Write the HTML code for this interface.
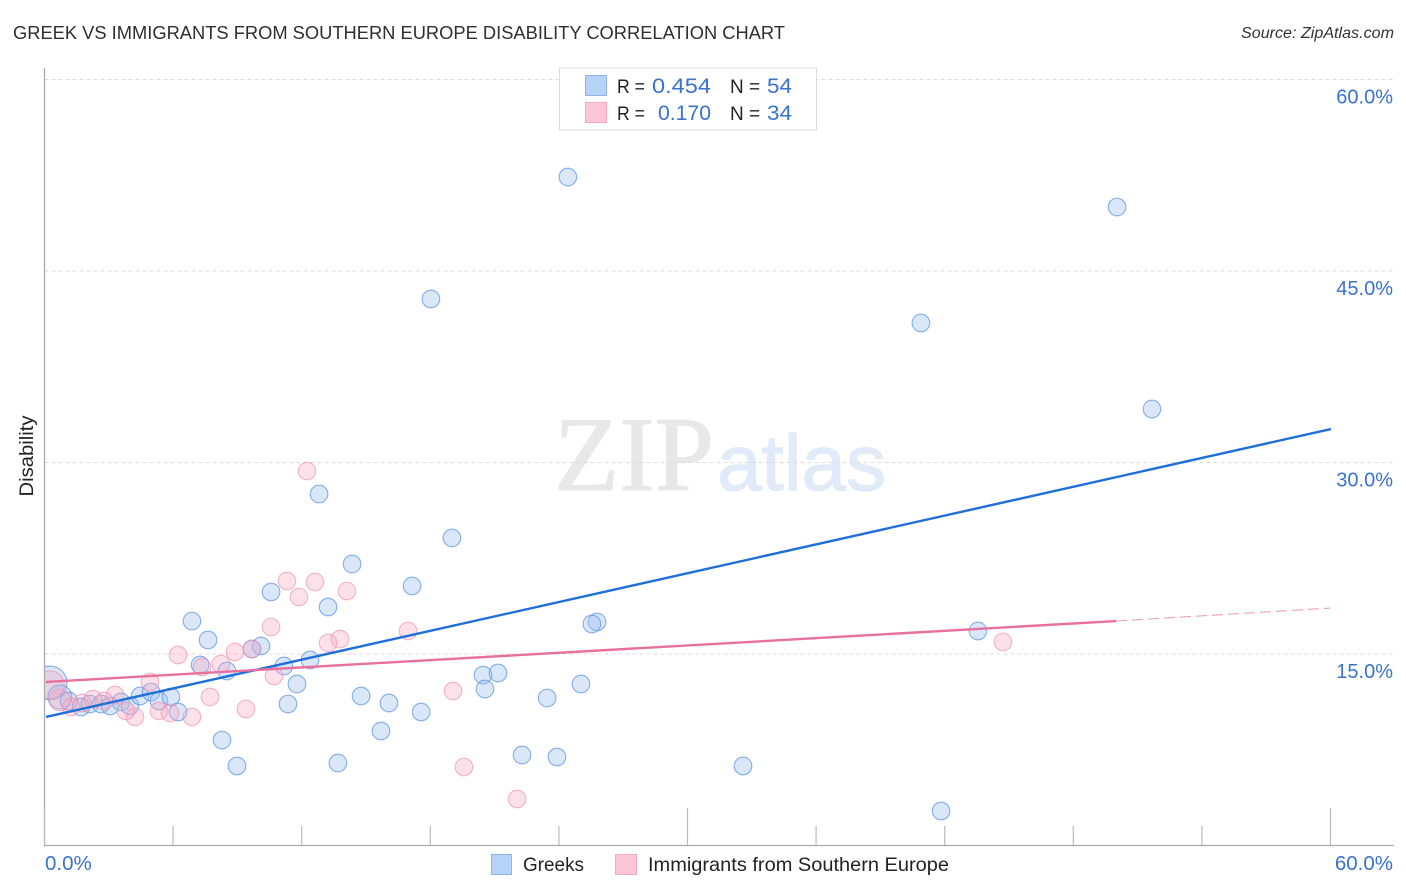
<!DOCTYPE html>
<html lang="en">
<head>
<meta charset="utf-8">
<title>Greek vs Immigrants from Southern Europe Disability Correlation Chart</title>
<style>
html,body{margin:0;padding:0;background:#fff;}
svg{display:block;}
text{font-family:"Liberation Sans",sans-serif;}
</style>
</head>
<body>
<svg id="chart" xmlns="http://www.w3.org/2000/svg" width="1406" height="892" viewBox="0 0 1406 892">
  <defs>
    <clipPath id="plot-clip"><rect x="45" y="60" width="1349" height="786"/></clipPath>
  </defs>
  <rect x="0" y="0" width="1406" height="892" fill="#ffffff"/>
  <text x="13" y="39" font-size="18.5" fill="#2f2f33" textLength="772" lengthAdjust="spacingAndGlyphs">GREEK VS IMMIGRANTS FROM SOUTHERN EUROPE DISABILITY CORRELATION CHART</text>
  <text x="1241" y="38" font-size="15.5" font-style="italic" fill="#333" textLength="153" lengthAdjust="spacingAndGlyphs">Source: ZipAtlas.com</text>
  <g>
    <text x="554" y="490" font-size="106" fill="#e8e8e8" stroke="#e8e8e8" stroke-width="1.2" style="font-family:'Liberation Serif',serif" textLength="160" lengthAdjust="spacingAndGlyphs">ZIP</text>
    <text x="717" y="490" font-size="79" fill="#e0eaf8" stroke="#e0eaf8" stroke-width="1.2" textLength="169" lengthAdjust="spacingAndGlyphs">atlas</text>
  </g>
  <g id="grid"></g>
  <g id="axes"></g>
  <g id="marks-blue" clip-path="url(#plot-clip)"></g>
  <g id="marks-pink" clip-path="url(#plot-clip)"></g>
  <g id="trends"></g>
  <text transform="translate(33,456) rotate(-90)" font-size="19" fill="#222" text-anchor="middle" textLength="81" lengthAdjust="spacingAndGlyphs">Disability</text>
  <g>
    <rect x="559.5" y="68" width="257" height="62" fill="#fff" fill-opacity="0.9" stroke="#dcdcdc" stroke-width="1"/>
    <rect x="585.5" y="75.5" width="21" height="20" fill="#b6d2f6" stroke="#8db4e6"/>
    <rect x="585.5" y="102.5" width="21" height="20" fill="#fcc6d9" stroke="#f4a9c2"/>
    <text x="617" y="93" font-size="19" fill="#222" textLength="28" lengthAdjust="spacingAndGlyphs">R =</text>
    <text x="652" y="93" font-size="21.5" fill="#3a72cc" textLength="59" lengthAdjust="spacingAndGlyphs">0.454</text>
    <text x="730" y="93" font-size="19" fill="#222">N =</text>
    <text x="767" y="93" font-size="21.5" fill="#3a72cc" textLength="25" lengthAdjust="spacingAndGlyphs">54</text>
    <text x="617" y="120" font-size="19" fill="#222" textLength="28" lengthAdjust="spacingAndGlyphs">R =</text>
    <text x="658" y="120" font-size="21.5" fill="#3a72cc" textLength="53" lengthAdjust="spacingAndGlyphs">0.170</text>
    <text x="730" y="120" font-size="19" fill="#222">N =</text>
    <text x="767" y="120" font-size="21.5" fill="#3a72cc" textLength="25" lengthAdjust="spacingAndGlyphs">34</text>
  </g>
  <g>
    <rect x="491.5" y="854.5" width="20" height="20" fill="#b6d2f6" stroke="#8db4e6"/>
    <text x="523" y="871" font-size="19.5" fill="#222" textLength="61" lengthAdjust="spacingAndGlyphs">Greeks</text>
    <rect x="615.5" y="854.5" width="21" height="20" fill="#fcc6d9" stroke="#f4a9c2"/>
    <text x="648" y="871" font-size="19.5" fill="#222" textLength="301" lengthAdjust="spacingAndGlyphs">Immigrants from Southern Europe</text>
  </g>
</svg>
<script>
const yTicks = [15, 30, 45, 60];
const yTickLabels = ["15.0%", "30.0%", "45.0%", "60.0%"];
const xTicks = [0, 6, 12, 18, 24, 30, 36, 42, 48, 54, 60];
const xMajorTicks = [0, 30, 60];
const xEdgeTicks = [0, 60];
const xEdgeLabels = ["0.0%", "60.0%"];

const greeksX = [24.42,50.04,18.03,40.89,51.67,12.81,19.01,14.35,17.15,10.57,13.23,6.88,25.78,25.54,43.55,7.63,10.10,9.68,12.39,11.17,7.26,8.51,20.46,21.16,20.55,11.78,25.03,14.77,23.45,16.07,11.36,17.57,15.70,8.28,22.28,23.91,8.98,13.69,32.59,41.83,0.26,0.72,1.14,1.70,2.12,2.64,3.06,3.57,3.99,4.46,4.97,5.34,5.90,6.23];
const greeksY = [52.36,50.01,42.81,40.93,34.19,27.53,24.09,22.05,20.33,19.86,18.68,17.58,17.51,17.35,16.80,16.10,15.63,15.39,14.53,14.06,14.14,13.67,13.35,13.51,12.26,12.65,12.65,11.71,11.55,11.16,11.08,10.46,8.97,8.26,7.09,6.93,6.23,6.46,6.23,2.70,12.73,11.63,11.32,10.85,11.08,11.08,10.93,11.24,10.93,11.71,12.02,11.32,11.63,10.46];
const greeksWeight = [1,1,1,1,1,1,1,1,1,1,1,1,1,1,1,1,1,1,1,1,1,1,1,1,1,1,1,1,1,1,1,1,1,1,1,1,1,1,1,1,3.7,1.85,1,1,1,1,1,1,1,1,1,1,1,1];

const immigrantsX = [12.25,11.31,12.62,14.11,11.87,10.57,16.96,13.23,13.79,44.72,9.68,8.89,6.23,8.23,7.35,10.71,4.92,19.06,7.72,9.40,19.57,22.05,6.88,5.34,5.86,4.22,3.80,3.29,2.78,2.26,1.75,1.24,0.72,0.26];
const immigrantsY = [29.33,20.72,20.64,19.93,19.46,17.11,16.80,15.86,16.17,15.94,15.39,15.16,14.92,14.22,13.98,13.28,12.81,12.10,11.63,10.69,6.15,3.64,10.07,10.54,10.38,10.07,10.54,11.79,11.32,11.47,11.16,10.85,11.40,12.57];
const immigrantsWeight = [1,1,1,1,1,1,1,1,1,1,1,1,1,1,1,1,1,1,1,1,1,1,1,1,1,1,1,1,1,1,1,1,1.5,2.6];

const greeksTrendX = [0.07, 60.02];
const greeksTrendY = [10.07, 32.62];
const immigrantsTrendX = [0.07, 50];
const immigrantsTrendY = [12.81, 17.58];
const immigrantsDashX = [50, 60];
const immigrantsDashY = [17.58, 18.6];

const NS = "http://www.w3.org/2000/svg";
function xScale(v){ return 44.5 + v * (1286 / 60); }
function yScale(v){ return 845.5 - v * (766 / 60); }
function radius(w){ return 8.8 * Math.sqrt(w); }
function add(parent, tag, attrs, txt){
  const el = document.createElementNS(NS, tag);
  for (const k in attrs) el.setAttribute(k, attrs[k]);
  if (txt !== undefined) el.textContent = txt;
  parent.appendChild(el);
  return el;
}

const grid = document.getElementById("grid");
yTicks.forEach(function(t, i){
  const line = add(grid, "line", {x1:44.5, x2:1394, y1:yScale(t), y2:yScale(t), stroke:"#dcdcdc", "stroke-width":1, "stroke-dasharray":"4 3"});
  
  
  const label = add(grid, "text", {x:1393, y:yScale(t) + 24, "font-size":20, fill:"#3a72cc", "text-anchor":"end"}, yTickLabels[i]);
  
  
});

const axes = document.getElementById("axes");
const yAxis = add(axes, "line", {x1:44.5, x2:44.5, y1:68, y2:846.5, stroke:"#aaaaaa", "stroke-width":1.3});


const xAxis = add(axes, "line", {x1:44, x2:1394, y1:845.5, y2:845.5, stroke:"#aaaaaa", "stroke-width":1.3});


xTicks.forEach(function(t){
  const top = xMajorTicks.indexOf(t) >= 0 ? 808 : 826;
  const tick = add(axes, "line", {x1:xScale(t), x2:xScale(t), y1:top, y2:845, stroke:"#bbbbbb", "stroke-width":1.2});
  
  
});
xEdgeTicks.forEach(function(t, i){
  const anchor = i === 0 ? "start" : "end";
  const px = i === 0 ? xScale(t) + 0.5 : 1393;
  const label = add(axes, "text", {x:px, y:870, "font-size":20.5, fill:"#3a72cc", "text-anchor":anchor}, xEdgeLabels[i]);
  
  
});

const blueGroup = document.getElementById("marks-blue");
greeksX.forEach(function(v, i){
  const c = add(blueGroup, "circle", {cx:xScale(v), cy:yScale(greeksY[i]), r:radius(greeksWeight[i]), fill:"#9cc0f0", "fill-opacity":0.38, stroke:"#5f97e0", "stroke-opacity":0.75, "stroke-width":1.1});
  
  
});

const pinkGroup = document.getElementById("marks-pink");
immigrantsX.forEach(function(v, i){
  const c = add(pinkGroup, "circle", {cx:xScale(v), cy:yScale(immigrantsY[i]), r:radius(immigrantsWeight[i]), fill:"#f8aac4", "fill-opacity":0.35, stroke:"#ee8fae", "stroke-opacity":0.65, "stroke-width":1.1});
  
  
});

const trends = document.getElementById("trends");
const blueTrend = add(trends, "line", {x1:xScale(greeksTrendX[0]), y1:yScale(greeksTrendY[0]), x2:xScale(greeksTrendX[1]), y2:yScale(greeksTrendY[1]), stroke:"#1f6fd8", "stroke-width":2.4});


const pinkTrend = add(trends, "line", {x1:xScale(immigrantsTrendX[0]), y1:yScale(immigrantsTrendY[0]), x2:xScale(immigrantsTrendX[1]), y2:yScale(immigrantsTrendY[1]), stroke:"#e8709c", "stroke-width":2.4});


const pinkDash = add(trends, "line", {x1:xScale(immigrantsDashX[0]), y1:yScale(immigrantsDashY[0]), x2:xScale(immigrantsDashX[1]), y2:yScale(immigrantsDashY[1]), stroke:"#e8709c", "stroke-opacity":0.75, "stroke-width":1, "stroke-dasharray":"11 5"});


</script>
</body>
</html>
